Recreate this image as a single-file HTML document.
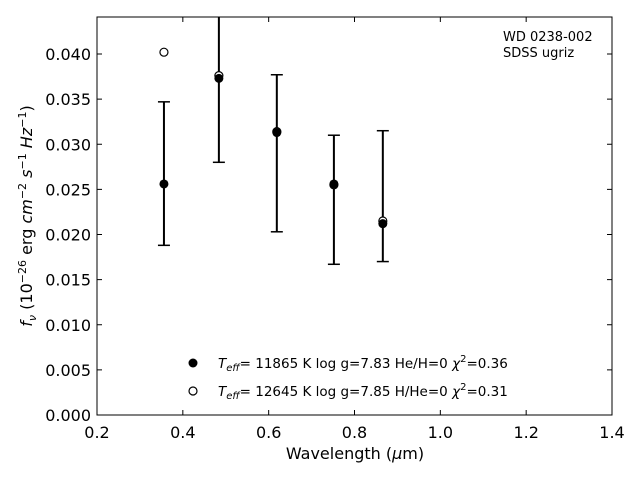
<!DOCTYPE html>
<html><head><meta charset="utf-8"><style>
body{margin:0;background:#fff;}
svg{display:block;font-family:"DejaVu Sans","Liberation Sans",sans-serif;}
</style></head><body>
<svg id="chart" width="640" height="480" viewBox="0 0 640 480">
<rect x="97" y="17" width="515" height="398" fill="none" stroke="#000" stroke-width="1"/>
<g id="ticks"></g>
<g id="marks"></g>
<text x="355" y="459" font-size="16" text-anchor="middle">Wavelength (<tspan font-style="italic">μ</tspan>m)</text>
<text transform="translate(32,216) rotate(-90)" font-size="16" text-anchor="middle"><tspan font-style="italic">f<tspan font-size="11" dy="4">ν</tspan></tspan><tspan dy="-4"> (10</tspan><tspan font-size="11" dy="-6">−26</tspan><tspan dy="6"> erg </tspan><tspan font-style="italic">cm</tspan><tspan font-size="11" dy="-6">−2</tspan><tspan dy="6"> </tspan><tspan font-style="italic">s</tspan><tspan font-size="11" dy="-6">−1</tspan><tspan dy="6"> </tspan><tspan font-style="italic">Hz</tspan><tspan font-size="11" dy="-6">−1</tspan><tspan dy="6">)</tspan></text>
<text x="503" y="41" font-size="13">WD 0238-002</text>
<text x="503" y="57" font-size="13">SDSS ugriz</text>
<g>
<circle cx="193" cy="363" r="4.5" fill="#000"/>
<text x="218" y="368" font-size="13.5"><tspan font-style="italic">T</tspan><tspan font-style="italic" font-size="10" dy="3">eff</tspan><tspan dy="-3">= 11865 K  log g=7.83  He/H=0  </tspan><tspan font-style="italic">χ</tspan><tspan font-size="10" dy="-6">2</tspan><tspan dy="6">=0.36</tspan></text>
<circle cx="193" cy="391" r="4" fill="#fff" stroke="#000" stroke-width="1.2"/>
<text x="218" y="396" font-size="13.5"><tspan font-style="italic">T</tspan><tspan font-style="italic" font-size="10" dy="3">eff</tspan><tspan dy="-3">= 12645 K  log g=7.85  H/He=0  </tspan><tspan font-style="italic">χ</tspan><tspan font-size="10" dy="-6">2</tspan><tspan dy="6">=0.31</tspan></text>
</g>
</svg>
<script>
const wavelengths = [0.356, 0.484, 0.619, 0.752, 0.866];
const observedFlux = [0.0256, 0.0373, 0.0313, 0.0256, 0.0212];
const fluxLow = [0.0188, 0.0280, 0.0203, 0.0167, 0.0170];
const fluxHigh = [0.0347, 0.0466, 0.0377, 0.0310, 0.0315];
const heModelFlux = [0.0402, 0.0376, 0.0314, 0.0255, 0.0215];
const xTicks = [0.2, 0.4, 0.6, 0.8, 1.0, 1.2, 1.4];
const yTicks = [0, 0.005, 0.010, 0.015, 0.020, 0.025, 0.030, 0.035, 0.040];

const NS = "http://www.w3.org/2000/svg";
const X0 = 97, X1 = 612, Y0 = 415, Y1 = 17;
const xmin = 0.2, xmax = 1.4, ymin = 0, ymax = 0.0441;
function xs(v){return X0 + (v - xmin) / (xmax - xmin) * (X1 - X0);}
function ys(v){return Y0 - (v - ymin) / (ymax - ymin) * (Y0 - Y1);}
function mk(tag, attrs, parent){const e=document.createElementNS(NS,tag);for(const k in attrs)e.setAttribute(k,attrs[k]);parent.appendChild(e);return e;}
const tg = document.getElementById('ticks');
const mg = document.getElementById('marks');
xTicks.forEach(t=>{
  const x = xs(t);
  let l = mk('line',{x1:x,x2:x,y1:Y0,y2:Y0-5,stroke:'#000'},tg);
  
  
  let l2 = mk('line',{x1:x,x2:x,y1:Y1,y2:Y1+5,stroke:'#000'},tg);
  
  
  const tx = mk('text',{x:x,y:Y0+23,'font-size':16,'text-anchor':'middle'},tg);
  tx.textContent = t.toFixed(1);
  
  
});
yTicks.forEach(t=>{
  const y = ys(t);
  let l = mk('line',{x1:X0,x2:X0+5,y1:y,y2:y,stroke:'#000'},tg);
  
  
  let l2 = mk('line',{x1:X1,x2:X1-5,y1:y,y2:y,stroke:'#000'},tg);
  
  
  const tx = mk('text',{x:X0-6,y:y+6,'font-size':16,'text-anchor':'end'},tg);
  tx.textContent = t.toFixed(3);
  
  
});
const defs = mk('clipPath',{id:'clip'},document.getElementById('chart'));
mk('rect',{x:X0,y:Y1,width:X1-X0,height:Y0-Y1},defs);
mg.setAttribute('clip-path','url(#clip)');
wavelengths.forEach((w,i)=>{
  const x = xs(w);
  const eb = mk('line',{x1:x,x2:x,y1:ys(fluxLow[i]),y2:ys(fluxHigh[i]),stroke:'#000','stroke-width':2},mg);
  
  
  [fluxLow[i],fluxHigh[i]].forEach(v=>{
    const c = mk('line',{x1:x-6,x2:x+6,y1:ys(v),y2:ys(v),stroke:'#000','stroke-width':1.5},mg);
    
    
  });
  const o = mk('circle',{cx:x,cy:ys(heModelFlux[i]),r:4,fill:'#fff',stroke:'#000','stroke-width':1.2},mg);
  
  
  const p = mk('circle',{cx:x,cy:ys(observedFlux[i]),r:4.5,fill:'#000'},mg);
  
  
});
</script>
</body></html>
